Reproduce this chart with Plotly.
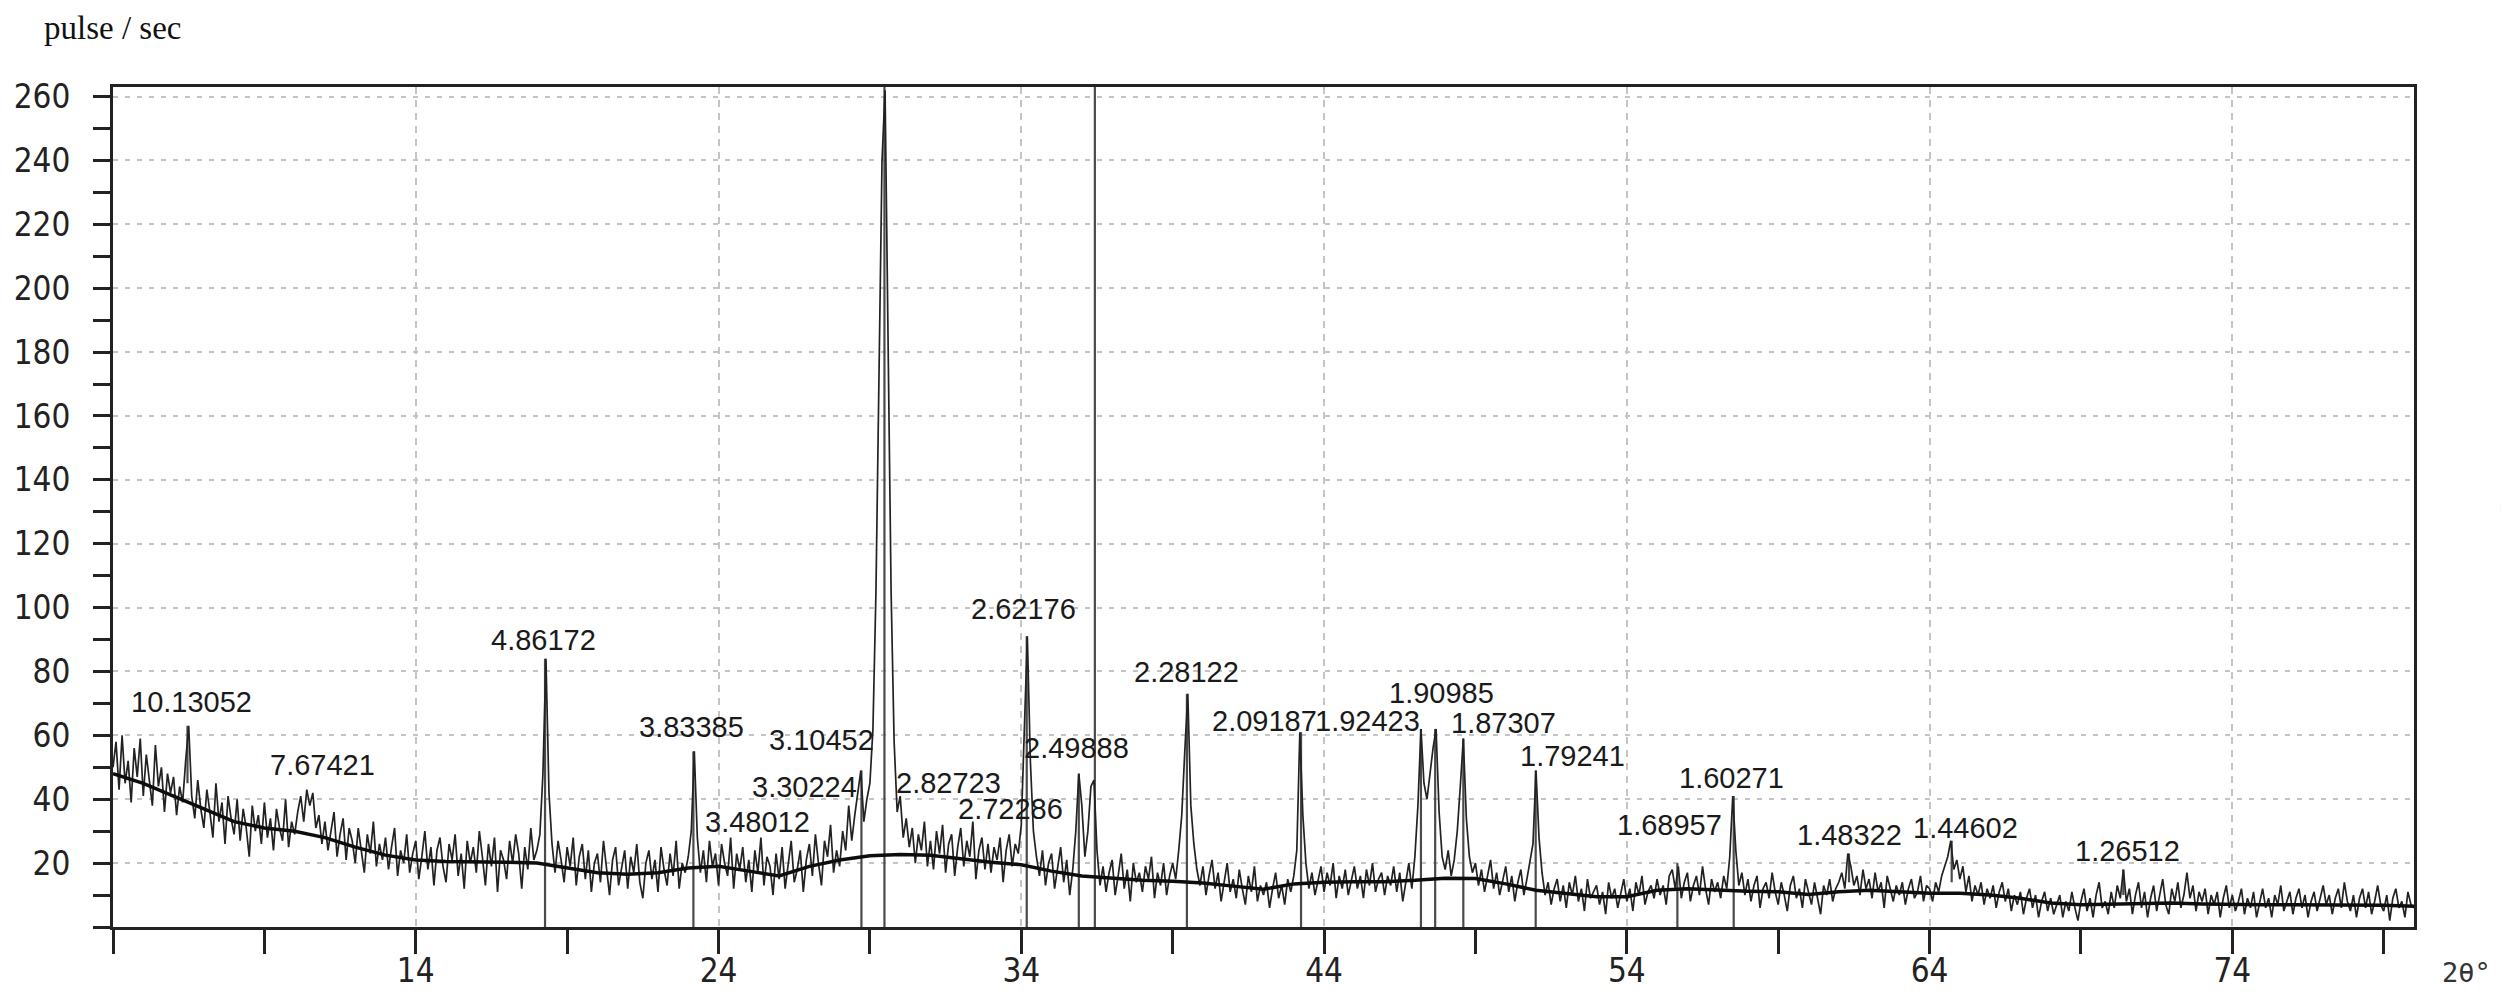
import numpy as np
import plotly.graph_objects as go

# scan: 2theta from 4.0 to 80.0 deg, step 0.1 (one row per degree)
scan_start = 4.0
scan_step = 0.1
counts = [
    50, 58, 43, 60, 45, 52, 39, 56, 47, 59,   # 4
    41, 54, 46, 38, 57, 44, 50, 36, 48, 42,   # 5
    47, 35, 44, 39, 52, 63, 41, 34, 46, 37,   # 6
    31, 43, 36, 28, 45, 33, 39, 26, 41, 34,   # 7
    29, 40, 27, 37, 31, 22, 38, 30, 35, 26,   # 8
    39, 28, 34, 24, 37, 31, 27, 40, 25, 33,   # 9
    29, 36, 41, 33, 43, 38, 42, 31, 35, 26,   # 10
    33, 24, 30, 36, 22, 29, 34, 21, 31, 27,   # 11
    20, 31, 24, 17, 29, 23, 33, 19, 26, 21,   # 12
    28, 18, 25, 31, 16, 24, 20, 29, 17, 23,   # 13
    27, 15, 22, 30, 18, 25, 13, 24, 28, 19,   # 14
    14, 26, 21, 29, 16, 23, 12, 27, 20, 25,   # 15
    17, 30, 22, 13, 26, 19, 28, 11, 24, 21,   # 16
    15, 27, 20, 29, 23, 12, 25, 18, 31, 21,   # 17
    24, 29, 48, 84, 42, 26, 17, 27, 21, 14,   # 18
    25, 19, 28, 13, 22, 26, 15, 24, 11, 20,   # 19
    23, 14, 27, 18, 10, 21, 25, 13, 19, 24,   # 20
    12, 22, 17, 26, 14, 9, 20, 24, 15, 21,    # 21
    11, 25, 18, 13, 23, 16, 27, 12, 20, 17,   # 22
    22, 30, 55, 28, 17, 24, 14, 27, 19, 23,   # 23
    13, 26, 20, 16, 28, 12, 23, 18, 25, 14,   # 24
    21, 11, 24, 17, 28, 13, 22, 19, 10, 23,   # 25
    15, 25, 12, 20, 27, 14, 18, 24, 11, 21,   # 26
    26, 16, 29, 20, 13, 27, 22, 32, 17, 24,   # 27
    19, 30, 24, 38, 27, 35, 42, 49, 33, 40,   # 28
    45, 62, 105, 175, 240, 262, 185, 105, 58, 36,  # 29
    41, 28, 34, 25, 31, 20, 29, 24, 33, 19,   # 30
    27, 18, 30, 23, 32, 17, 26, 29, 16, 25,   # 31
    31, 19, 27, 22, 33, 15, 24, 28, 18, 26,   # 32
    17, 25, 21, 28, 14, 24, 29, 19, 26, 23,   # 33
    32, 60, 91, 52, 30, 22, 16, 24, 13, 20,   # 34
    23, 12, 19, 25, 14, 21, 10, 18, 30, 48,   # 35
    38, 22, 30, 44, 46, 24, 13, 19, 11, 17,   # 36
    21, 10, 16, 23, 12, 18, 8, 20, 14, 17,    # 37
    11, 19, 15, 22, 9, 17, 13, 20, 10, 16,    # 38
    20, 15, 24, 35, 55, 73, 38, 26, 18, 13,   # 39
    19, 10, 16, 21, 12, 17, 8, 14, 20, 11,    # 40
    15, 9, 18, 12, 7, 16, 11, 19, 8, 13,      # 41
    10, 14, 6, 12, 17, 9, 13, 7, 15, 11,      # 42
    16, 24, 61, 35, 20, 12, 17, 10, 15, 19,   # 43
    11, 17, 13, 20, 9, 16, 12, 18, 10, 15,    # 44
    19, 12, 16, 9, 18, 13, 20, 11, 15, 17,    # 45
    10, 16, 13, 19, 11, 17, 8, 14, 20, 12,    # 46
    22, 38, 62, 45, 40, 48, 56, 62, 36, 22,   # 47
    18, 24, 16, 21, 30, 44, 59, 34, 22, 17,   # 48
    20, 13, 18, 11, 16, 21, 12, 17, 10, 15,   # 49
    19, 11, 16, 8, 14, 18, 10, 15, 21, 26,    # 50
    49, 28, 17, 10, 14, 7, 12, 15, 8, 13,     # 51
    6, 14, 10, 16, 8, 12, 5, 15, 9, 11,       # 52
    13, 7, 11, 4, 14, 9, 12, 6, 10, 15,       # 53
    8, 12, 5, 14, 10, 16, 7, 11, 13, 9,       # 54
    15, 10, 13, 7, 16, 18, 12, 19, 9, 14,     # 55
    17, 8, 13, 16, 10, 19, 12, 7, 15, 11,     # 56
    14, 9, 16, 12, 22, 41, 24, 13, 17, 10,    # 57
    15, 8, 13, 16, 6, 12, 14, 9, 17, 11,      # 58
    7, 14, 10, 5, 13, 16, 9, 12, 6, 15,       # 59
    11, 7, 14, 9, 4, 13, 10, 15, 8, 12,       # 60
    14, 17, 12, 23, 19, 13, 16, 10, 18, 12,   # 61
    15, 9, 17, 11, 14, 6, 16, 12, 8, 13,      # 62
    10, 14, 7, 12, 15, 9, 11, 16, 8, 13,      # 63
    12, 8, 14, 11, 16, 19, 22, 27, 18, 21,    # 64
    15, 19, 11, 16, 8, 13, 10, 14, 7, 12,     # 65
    9, 13, 6, 11, 14, 8, 12, 5, 10, 7,        # 66
    11, 4, 9, 12, 6, 10, 3, 8, 11, 5,         # 67
    9, 4, 7, 10, 3, 8, 5, 11, 6, 2,           # 68
    8, 12, 5, 9, 3, 10, 14, 6, 8, 4,          # 69
    11, 6, 13, 9, 18, 8, 12, 4, 10, 14,       # 70
    6, 11, 3, 9, 13, 5, 10, 15, 7, 4,         # 71
    12, 8, 14, 6, 10, 17, 9, 13, 5, 11,       # 72
    8, 12, 4, 10, 7, 11, 3, 9, 13, 6,         # 73
    10, 5, 8, 12, 4, 9, 6, 11, 3, 8,          # 74
    12, 6, 9, 3, 10, 7, 13, 5, 8, 11,         # 75
    4, 9, 12, 6, 10, 3, 8, 11, 5, 9,          # 76
    13, 7, 10, 4, 9, 12, 6, 14, 8, 5,         # 77
    10, 3, 9, 12, 6, 11, 4, 8, 13, 7,         # 78
    5, 10, 2, 9, 12, 6, 8, 3, 11, 7,          # 79
    6,                                        # 80
]

# fitted background, one value per degree
bg_deg = list(range(4, 81))
bg_counts = [48, 45, 41, 37, 33, 31, 30, 28, 25, 22.5,
             21, 20.5, 20.5, 20.3, 20, 18.5, 17, 16.5, 17, 18.5,
             19, 17.5, 16, 19, 21, 22.3, 22.7, 22.5, 21.3, 20.3,
             19.5, 17.5, 16, 15.3, 14.6, 14.3, 13.8, 12.8, 11.8, 13.5,
             14, 14.2, 14.2, 14.6, 15.3, 15.2, 13.5, 11.5, 10.5, 9.5,
             9.5, 11.5, 12, 11.5, 11.2, 11, 10.2, 11, 11.5, 11,
             10.6, 10.6, 10, 9, 7.5, 7, 7.2, 7.5, 7.5, 7.2,
             7, 7, 7, 7, 7, 6.8, 6.5]

# peak markers (sticks)
stick_pos = [6.46, 18.27, 23.17, 28.72, 29.48, 34.18, 35.90, 36.43, 39.47, 43.24,
             47.20, 47.67, 48.60, 50.99, 55.67, 57.53, 61.34, 64.73, 70.40]
stick_top = [63, 84, 55, 49, 263, 91, 48, 263, 73, 61,
             62, 62, 59, 49, 20, 41, 23, 27, 18]
stick_base = [45, 0, 0, 0, 0, 0, 0, 0, 0, 0,
              0, 0, 0, 0, 0, 0, 14, 14, 10]

# d-spacing labels and where they sit
d_labels = ["10.13052", "7.67421", "4.86172", "3.83385", "3.48012", "3.30224",
            "3.10452", "3.02709", "2.82723", "2.72286", "2.62176", "2.49888",
            "2.46761", "2.28122", "2.09187", "1.92423", "1.90985", "1.87307",
            "1.79241", "1.68957", "1.60271", "1.48322", "1.44602", "1.26512"]
d_label_x = [6.6, 10.92, 18.23, 23.1, 25.3, 26.85,
             27.4, 29.42, 31.6, 33.64, 34.07, 35.83,
             36.5, 39.47, 42.02, 45.43, 47.87, 49.93,
             52.2, 55.4, 57.45, 61.37, 65.2, 70.53]
d_label_y = [70.5, 50.7, 89.8, 62.6, 32.9, 43.8,
             58.4, 271, 45, 36.9, 99.5, 56,
             271, 79.8, 64.5, 64.5, 73.2, 63.8,
             53.5, 32, 46.6, 28.9, 31, 23.9]

x_ticks = [14, 24, 34, 44, 54, 64, 74]
y_ticks = list(range(20, 261, 20))

scan_x = np.round(scan_start + scan_step * np.arange(len(counts)), 2)

fig = go.Figure()

# sticks
sx, sy = [], []
for p, b, t in zip(stick_pos, stick_base, stick_top):
    sx += [p, p, None]
    sy += [b, t, None]
fig.add_trace(go.Scatter(x=sx, y=sy, mode="lines",
                         line=dict(color="#4a4a4a", width=2.2),
                         hoverinfo="skip", showlegend=False))

# measured pattern
fig.add_trace(go.Scatter(x=scan_x, y=counts, mode="lines",
                         line=dict(color="#222222", width=1.7),
                         name="counts", showlegend=False))

# background
fig.add_trace(go.Scatter(x=bg_deg, y=bg_counts, mode="lines",
                         line=dict(color="#0d0d0d", width=3.5),
                         name="background", showlegend=False))

for txt, lx, ly in zip(d_labels, d_label_x, d_label_y):
    fig.add_annotation(x=lx, y=ly, xref="x", yref="y", text=txt, showarrow=False,
                       font=dict(family="Liberation Sans, Arial", size=29, color="#1a1a1a"))

fig.add_annotation(x=-0.031, y=1.07, xref="paper", yref="paper",
                   xanchor="left", yanchor="middle",
                   text="pulse / sec", showarrow=False,
                   font=dict(family="Liberation Serif, Times New Roman", size=33, color="#111111"))
fig.add_annotation(x=1.023, y=-0.054, xref="paper", yref="paper",
                   xanchor="center", yanchor="middle",
                   text="2θ°", showarrow=False,
                   font=dict(family="DejaVu Sans Mono", size=27, color="#333333"))
fig.add_annotation(x=1.0385, y=0.498, xref="paper", yref="paper",
                   xanchor="center", yanchor="middle",
                   text="[", showarrow=False,
                   font=dict(family="DejaVu Sans", size=12, color="#8fbcd8"))

tick_font = dict(family="Liberation Sans Narrow, DejaVu Sans Condensed, Liberation Sans",
                 size=33, color="#222222")

fig.update_xaxes(range=[4, 80], tickvals=x_ticks, ticks="outside", ticklen=24,
                 tickwidth=2.5, tickcolor="#222222", tickfont=tick_font,
                 showline=True, linewidth=3, linecolor="#222222", mirror=True,
                 showgrid=True, gridcolor="#c4c4c4", gridwidth=2, griddash="7px,6px",
                 zeroline=False, ticklabelstandoff=-12, automargin=False,
                 minor=dict(tick0=4, dtick=5, ticks="outside", ticklen=24,
                            tickwidth=2.5, tickcolor="#222222", showgrid=False))
fig.update_yaxes(range=[0, 263], tickvals=y_ticks, ticks="outside", ticklen=17,
                 tickwidth=3, tickcolor="#222222", tickfont=tick_font,
                 showline=True, linewidth=3, linecolor="#222222", mirror=True,
                 showgrid=True, gridcolor="#c4c4c4", gridwidth=2, griddash="5px,7px",
                 zeroline=False, ticklabelstandoff=16, automargin=False,
                 minor=dict(tick0=0, dtick=10, ticks="outside", ticklen=17,
                            tickwidth=3, tickcolor="#222222", showgrid=False))

fig.update_layout(width=2509, height=998,
                  margin=dict(l=105, r=103, t=79, b=79, autoexpand=False),
                  paper_bgcolor="white", plot_bgcolor="white",
                  showlegend=False)

fig.write_html("out.html")
